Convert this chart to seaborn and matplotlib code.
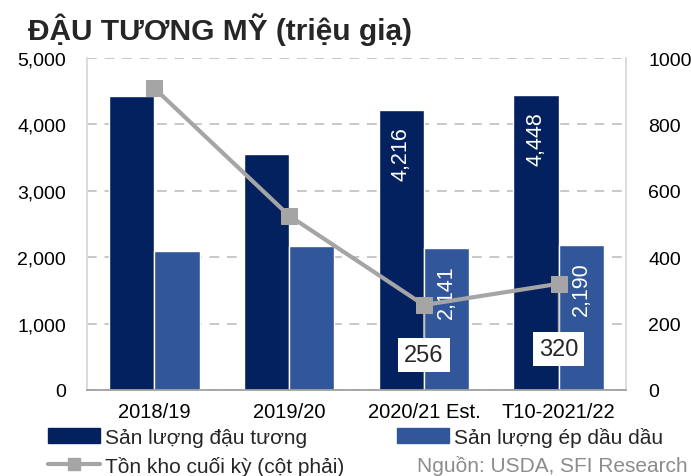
import numpy as np
import pandas as pd
import seaborn as sns
import matplotlib.pyplot as plt
from matplotlib.lines import Line2D
from matplotlib.patches import Patch
from matplotlib.ticker import FuncFormatter

# data
years = ['2018/19', '2019/20', '2020/21 Est.', 'T10-2021/22']
san_luong = [4428, 3552, 4216, 4448]      # Sản lượng đậu tương
ep_dau = [2092, 2165, 2141, 2190]         # Sản lượng ép dầu
ton_kho = [909, 525, 256, 320]            # Tồn kho cuối kỳ (right axis)

s1 = 'Sản lượng đậu tương'
s2 = 'Sản lượng ép dầu dầu'
s3 = 'Tồn kho cuối kỳ (cột phải)'

dark = '#03215E'
blue = '#31579A'
gray = '#A5A5A5'

sns.set_style('white')
plt.rcParams['font.family'] = ['Liberation Sans', 'DejaVu Sans']

df = pd.DataFrame({'year': years * 2,
                   'value': san_luong + ep_dau,
                   'series': [s1] * 4 + [s2] * 4})

fig = plt.figure(figsize=(6.91, 4.77), dpi=100)
ax = fig.add_axes([87 / 691, 86 / 477, 539 / 691, 332 / 477])

sns.barplot(data=df, x='year', y='value', hue='series', palette=[dark, blue],
            width=0.67, saturation=1, ax=ax, legend=False)
ax.set_ylim(0, 5000)
ax.set_xlim(-0.5, 3.5)
ax.set_yticks(np.arange(0, 5001, 1000))
ax.yaxis.set_major_formatter(FuncFormatter(lambda v, p: f'{int(v):,}'))
ax.set_xlabel('')
ax.set_ylabel('')
ax.tick_params(axis='both', length=0, colors='black')
ax.tick_params(axis='x', pad=9, labelsize=14.5)
ax.tick_params(axis='y', pad=15, labelsize=14)
ax.yaxis.grid(True, color='#C8C8C8', linestyle=(0, (5, 4)), linewidth=1.4)
ax.set_axisbelow(True)
for side in ['left', 'right', 'top']:
    ax.spines[side].set_color('#D9D9D9')
    ax.spines[side].set_linewidth(1.3)
ax.spines['top'].set_visible(False)
ax.spines['bottom'].set_color('#A0A0A0')
ax.spines['bottom'].set_linewidth(1.3)

# value labels inside the last two bars of each series
for cont in ax.containers:
    for i, rect in enumerate(cont):
        if i < 2:
            continue
        h = rect.get_height()
        ax.annotate(f'{int(h):,}', (rect.get_x() + rect.get_width() / 2, h),
                    xytext=(0, -12), textcoords='offset points',
                    rotation=90, ha='center', va='top', color='white', fontsize=15.5)

ax2 = ax.twinx()
sns.lineplot(x=np.arange(len(years)), y=ton_kho, ax=ax2, color=gray, linewidth=3,
             marker='s', markersize=11, markeredgecolor=gray)
ax2.set_ylim(0, 1000)
ax2.set_yticks(np.arange(0, 1001, 200))
ax2.tick_params(axis='y', length=0, labelsize=14, colors='black', pad=16)
for side in ['left', 'right', 'top', 'bottom']:
    ax2.spines[side].set_visible(False)

offsets = {2: -36, 3: -47}
for i, off in offsets.items():
    ax2.annotate(str(ton_kho[i]), (i, ton_kho[i]), xytext=(0, off),
                 textcoords='offset points', ha='center', va='center', fontsize=17,
                 bbox=dict(boxstyle='square,pad=0.25', fc='white', ec='none'),
                 arrowprops=dict(arrowstyle='-', color=gray, lw=1.2, shrinkA=0, shrinkB=0))

fig.text(28 / 691, 1 - 30 / 477, 'ĐẬU TƯƠNG MỸ (triệu giạ)', fontsize=21.5,
         fontweight='bold', va='center', ha='left')

handles = [Patch(color=dark), Line2D([], [], color=gray, lw=3, marker='s', markersize=8),
           Patch(color=blue)]
fig.legend(handles, [s1, s3, s2], ncol=2, loc='upper left',
           bbox_to_anchor=(48 / 691, 1 - 428 / 477), frameon=False, fontsize=15,
           handlelength=2.5, handleheight=0.7, handletextpad=0.25,
           columnspacing=2.5, labelspacing=0.42, borderaxespad=0, borderpad=0)

fig.text(688 / 691, 1 - 466 / 477, 'Nguồn: USDA, SFI Research', fontsize=15,
         color='#8C8C8C', ha='right', va='center')

fig.savefig('out.png', dpi=100)
